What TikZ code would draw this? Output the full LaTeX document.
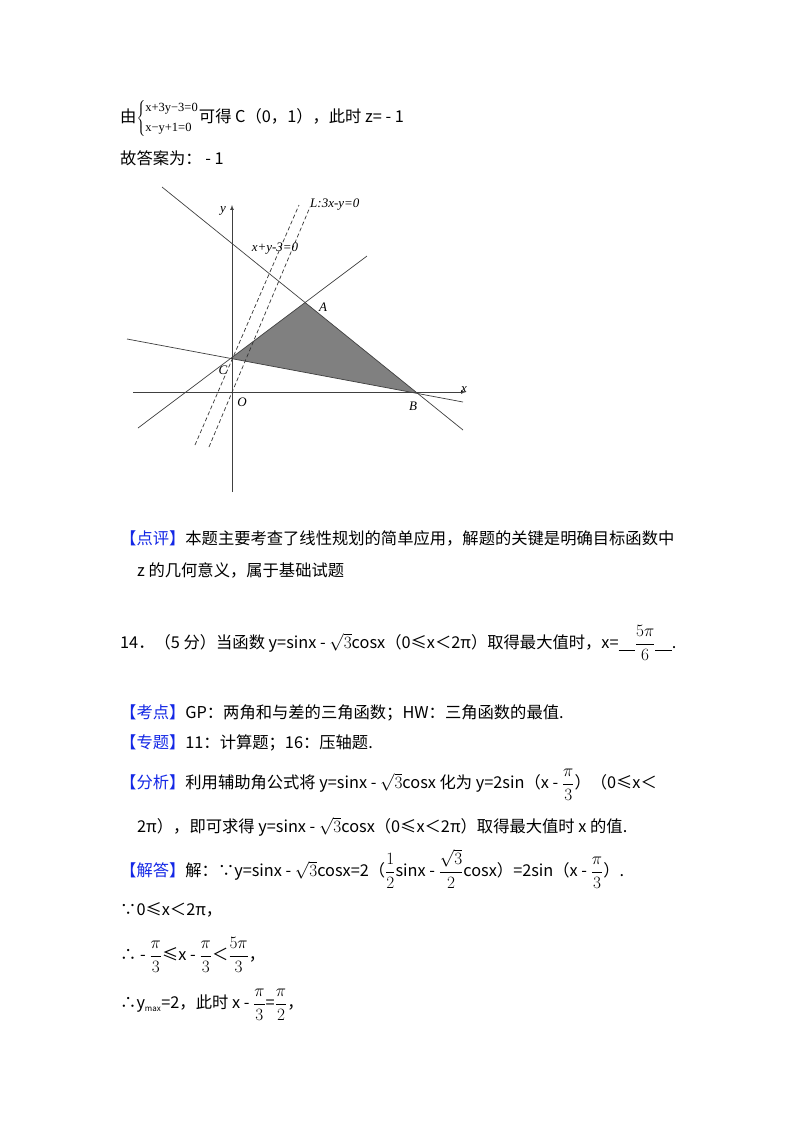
\documentclass[tikz,border=0pt]{standalone}
\usepackage{fontspec}
\setmainfont{Noto Sans CJK SC}
\newfontfamily\tms{Liberation Serif}
\definecolor{tagblue}{RGB}{20,40,230}
\newcommand{\tg}[1]{\textcolor{tagblue}{#1}}
\newcommand{\rt}{$\sqrt{3}$}
\newcommand{\fr}[2]{$\displaystyle\frac{#1}{#2}$}
\begin{document}
\begin{tikzpicture}[x=1pt,y=-1pt,
  txt/.style={anchor=west,inner sep=0pt,font=\fontsize{16.3}{19}\selectfont},
  gl/.style={draw=black!75,line width=0.7pt},
  dl/.style={draw=black!80,line width=0.7pt,dash pattern=on 4pt off 2.5pt},
  lab/.style={inner sep=0pt,font=\tms\itshape\fontsize{13}{15}\selectfont}]
\useasboundingbox (0,0) rectangle (800,1133);
\fill[white] (0,0) rectangle (800,1133);
% text top
\node[txt] (l1) at (120,118) {由$\left\{\begin{array}{@{}l@{}}\mbox{\tms\fontsize{12.5}{13}\selectfont x+3y−3=0}\\[1pt]\mbox{\tms\fontsize{12.5}{13}\selectfont x−y+1=0}\end{array}\right.$可得 C（0，1），此时 z= - 1};
\node[txt] (l2) at (120,158) {故答案为： - 1};
% graph
\coordinate (p1) at (127,339); \coordinate (p2) at (463,402);
\coordinate (q1) at (138,428); \coordinate (q2) at (367,256);
\coordinate (r1) at (162,187); \coordinate (r2) at (463,430);
\coordinate (C) at (intersection of p1--p2 and q1--q2);
\coordinate (A) at (intersection of q1--q2 and r1--r2);
\coordinate (B) at (intersection of p1--p2 and r1--r2);
\fill[black!50] (C) -- (A) -- (B) -- cycle;
\draw[gl,-latex] (232,492) -- (232,205);
\draw[gl,-latex] (133,392) -- (466,392);
\draw[gl] (p1) -- (p2);
\draw[gl] (q1) -- (q2);
\draw[gl] (r1) -- (r2);
\draw[dl] (195,445) -- (299,205);
\draw[dl] (209,447) -- (310,207);
\node[lab,anchor=east] (ly) at (226,211) {y};
\node[lab,anchor=west] (lL) at (310,205) {L:3x-y=0};
\node[lab] (lxy) at (275,249) {x+y-3=0};
\node[lab] (lA) at (323,307) {A};
\node[lab] (lC) at (223,370) {C};
\node[lab] (lO) at (242,402) {O};
\node[lab] (lB) at (413,406) {B};
\node[lab] (lx) at (464,390) {x};
% text below
\node[txt] (dp) at (120,538) {\tg{【点评】}本题主要考查了线性规划的简单应用，解题的关键是明确目标函数中};
\node[txt] (dp2) at (137,570) {z 的几何意义，属于基础试题};
\node[txt] (q14) at (120,643) {14．（5 分）当函数 y=sinx - \rt cosx（0≤x＜2π）取得最大值时，x=\underline{\hspace{1em}}\fr{5\pi}{6}\underline{\hspace{1em}}.};
\node[txt] (kd) at (120,713) {\tg{【考点】}GP：两角和与差的三角函数；HW：三角函数的最值.};
\node[txt] (zt) at (120,743) {\tg{【专题】}11：计算题；16：压轴题.};
\node[txt] (fx) at (120,785) {\tg{【分析】}利用辅助角公式将 y=sinx - \rt cosx 化为 y=2sin（x - \fr{\pi}{3}）（0≤x＜};
\node[txt] (fx2) at (137,827) {2π），即可求得 y=sinx - \rt cosx（0≤x＜2π）取得最大值时 x 的值.};
\node[txt] (jd) at (120,869) {\tg{【解答】}解：∵y=sinx - \rt cosx=2（\fr{1}{2}sinx - \fr{\sqrt{3}}{2}cosx）=2sin（x - \fr{\pi}{3}）.};
\node[txt] (s1) at (120,910) {∵0≤x＜2π，};
\node[txt] (s2) at (120,955) {∴ - \fr{\pi}{3}≤x - \fr{\pi}{3}＜\fr{5\pi}{3}，};
\node[txt] (s3) at (120,1005) {∴y\textsubscript{\fontsize{8}{9}\selectfont max}=2，此时 x - \fr{\pi}{3}=\fr{\pi}{2}，};
\end{tikzpicture}
\end{document}
